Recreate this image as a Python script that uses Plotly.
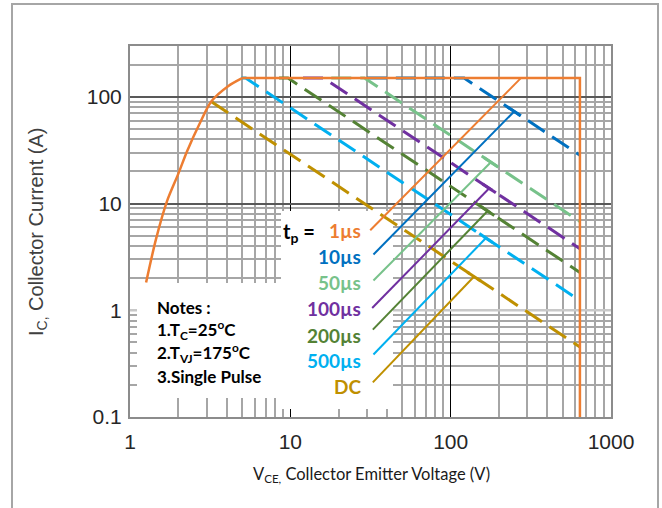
import numpy as np
import plotly.graph_objects as go

# ---------------- data ----------------
series = ["1µs", "10µs", "50µs", "100µs", "200µs", "500µs", "DC"]
colors = ["#ED7D31", "#0070C0", "#77C28A", "#7030A0", "#548235", "#00B0F0", "#BF9000"]

# SOA envelope (1 µs, solid orange): rising part, then plateau + vertical limit
rise_v = [1.26, 1.45, 1.7, 2.0, 2.27, 2.73, 3.22, 4.09, 5.0]
rise_i = [1.82, 4.6, 10.5, 19.0, 31.0, 57, 91, 126, 150]
flat_v = [5.0, 640, 640]
flat_i = [150, 150, 0.1]

i_max = 150.0
v_max = 640.0
# constant-power limits for 10µs, 50µs, 100µs, 200µs, 500µs, DC (W)
power = [18200, 4350, 2420, 1450, 790, 290]
flat_start_v = [30, 18, 12, 8.5, 4.95, None]
dc_start_v = 3.22

# leader lines from labels to curves
leader_v0 = [31.5, 33.0, 33.0, 32.4, 32.7, 33.0, 32.7]
leader_i0 = [5.62, 3.33, 1.90, 1.05, 0.659, 0.385, 0.211]
leader_v1 = [274, 249, 178, 174, 170, 166, 140]

x_ticks = [1, 10, 100, 1000]
y_ticks = [0.1, 1, 10, 100]
x_range = [0, 3]
y_range = [-1, float(np.log10(300))]

# ---------------- geometry helpers ----------------
L, R, T, B = 130, 51, 46, 91
W, H = 662, 508
pw, ph = W - L - R, H - T - B

def px(x):
    return (x - L) / pw

def py(y):
    return (H - B - y) / ph

def pix_to_v(x):
    return 10 ** (x_range[0] + (x_range[1] - x_range[0]) * px(x))

def pix_to_i(y):
    return 10 ** (y_range[0] + (y_range[1] - y_range[0]) * py(y))

def box_trace(x0, x1, y0, y1):
    xs = [pix_to_v(x0), pix_to_v(x1), pix_to_v(x1), pix_to_v(x0), pix_to_v(x0)]
    ys = [pix_to_i(y0), pix_to_i(y0), pix_to_i(y1), pix_to_i(y1), pix_to_i(y0)]
    return go.Scatter(x=xs, y=ys, mode="lines", fill="toself", fillcolor="white",
                      line=dict(width=0, color="white"), hoverinfo="skip", showlegend=False)

# ---------------- figure ----------------
fig = go.Figure()

# lighter gridline at 1 A
fig.add_trace(go.Scatter(x=[1, 1000], y=[1, 1], mode="lines",
                         line=dict(color="#C8C8C8", width=2.5), hoverinfo="skip", showlegend=False))
# white label / notes panels (over grid, under curves)
fig.add_trace(box_trace(281, 393, 211, 409))
fig.add_trace(box_trace(137, 282, 283, 398))

for k in range(6):
    col = colors[k + 1]
    P = power[k]
    if flat_start_v[k] is not None:
        xs = [flat_start_v[k], P / i_max, v_max]
        ys = [i_max, i_max, P / v_max]
    else:
        xs = [dc_start_v, v_max]
        ys = [P / dc_start_v, P / v_max]
    fig.add_trace(go.Scatter(x=xs, y=ys, mode="lines",
                             line=dict(color=col, width=3, dash="20px,9px"),
                             hoverinfo="skip", showlegend=False))

fig.add_trace(go.Scatter(x=rise_v, y=rise_i, mode="lines",
                         line=dict(color=colors[0], width=2.5, shape="spline", smoothing=0.8),
                         hoverinfo="skip", showlegend=False))
fig.add_trace(go.Scatter(x=flat_v, y=flat_i, mode="lines",
                         line=dict(color=colors[0], width=2.5),
                         hoverinfo="skip", showlegend=False))

for k in range(7):
    col = colors[k]
    v1 = leader_v1[k]
    i1 = i_max if k == 0 else power[k - 1] / v1
    fig.add_trace(go.Scatter(x=[leader_v0[k], v1], y=[leader_i0[k], i1], mode="lines",
                             line=dict(color=col, width=2),
                             hoverinfo="skip", showlegend=False))
    if k > 0:
        P = power[k - 1]
        cx = [v1 / 1.1, v1 * 1.1]
        fig.add_trace(go.Scatter(x=cx, y=[P / c for c in cx], mode="lines",
                                 line=dict(color=col, width=3),
                                 hoverinfo="skip", showlegend=False))

# ---------------- layout ----------------
minor_x = [m * 10 ** d for d in range(0, 3) for m in range(2, 10)]
minor_y = [m * 10 ** d for d in range(-1, 2) for m in range(2, 10)] + [200]

tickfont = dict(family="Liberation Sans, Arial", size=21, color="#262626")
fig.update_layout(
    width=W, height=H,
    margin=dict(l=L, r=R, t=T, b=B),
    paper_bgcolor="white", plot_bgcolor="white",
    showlegend=False,
    xaxis=dict(type="log", range=x_range, tickvals=x_ticks,
               ticktext=[str(v) for v in x_ticks],
               showgrid=True, gridcolor="#000000", gridwidth=1,
               minor=dict(tickvals=minor_x, showgrid=True, gridcolor="#A6A6A6", gridwidth=1.6, ticks=""),
               showline=True, linecolor="#8C8C8C", linewidth=2, mirror=True,
               ticks="", ticklabelstandoff=5, tickfont=tickfont, zeroline=False),
    yaxis=dict(type="log", range=y_range, tickvals=y_ticks,
               ticktext=["0.1", "1", "10", "100"],
               showgrid=True, gridcolor="#595959", gridwidth=2,
               minor=dict(tickvals=minor_y, showgrid=True, gridcolor="#A6A6A6", gridwidth=1.6, ticks=""),
               showline=True, linecolor="#8C8C8C", linewidth=2, mirror=True,
               ticks="", ticklabelstandoff=2, tickfont=tickfont, zeroline=False),
)

shapes = [dict(type="rect", xref="paper", yref="paper",
               x0=px(12), x1=px(658), y0=py(512), y1=py(4),
               fillcolor="rgba(0,0,0,0)", line=dict(color="#A6A6A6", width=2), layer="above")]
fig.update_layout(shapes=shapes)

ann = []
label_y = [230.7, 256.7, 282.3, 308.3, 335, 360.7, 386.7]
for k in range(7):
    ann.append(dict(xref="paper", yref="paper", x=px(363), y=py(label_y[k]),
                    xanchor="right", yanchor="middle", showarrow=False,
                    text="<b>%s</b>" % series[k],
                    font=dict(family="Lato", size=19, color=colors[k])))
ann.append(dict(xref="paper", yref="paper", x=px(281), y=py(232),
                xanchor="left", yanchor="middle", showarrow=False,
                text="<b>t<sub>p</sub> =</b>",
                font=dict(family="Lato", size=20, color="#000000")))
notes = ["Notes :", "1.T<sub>C</sub>=25<sup>o</sup>C", "2.T<sub>VJ</sub>=175<sup>o</sup>C", "3.Single Pulse"]
notes_y = [307, 330, 353, 376]
for t, yy in zip(notes, notes_y):
    ann.append(dict(xref="paper", yref="paper", x=px(155), y=py(yy),
                    xanchor="left", yanchor="middle", showarrow=False,
                    text="<b>%s</b>" % t,
                    font=dict(family="Lato", size=17, color="#000000")))
ann.append(dict(xref="paper", yref="paper", x=px(371), y=py(474),
                xanchor="center", yanchor="middle", showarrow=False,
                text="V<sub>CE,</sub> Collector Emitter Voltage (V)",
                font=dict(family="Lato", size=16.5, color="#1A1A1A")))
ann.append(dict(xref="paper", yref="paper", x=px(37), y=py(232),
                xanchor="center", yanchor="middle", showarrow=False, textangle=-90,
                text="I<sub>C,</sub> Collector Current (A)",
                font=dict(family="Liberation Sans, Arial", size=20, color="#404040")))
fig.update_layout(annotations=ann)

fig.write_html("out.html")
